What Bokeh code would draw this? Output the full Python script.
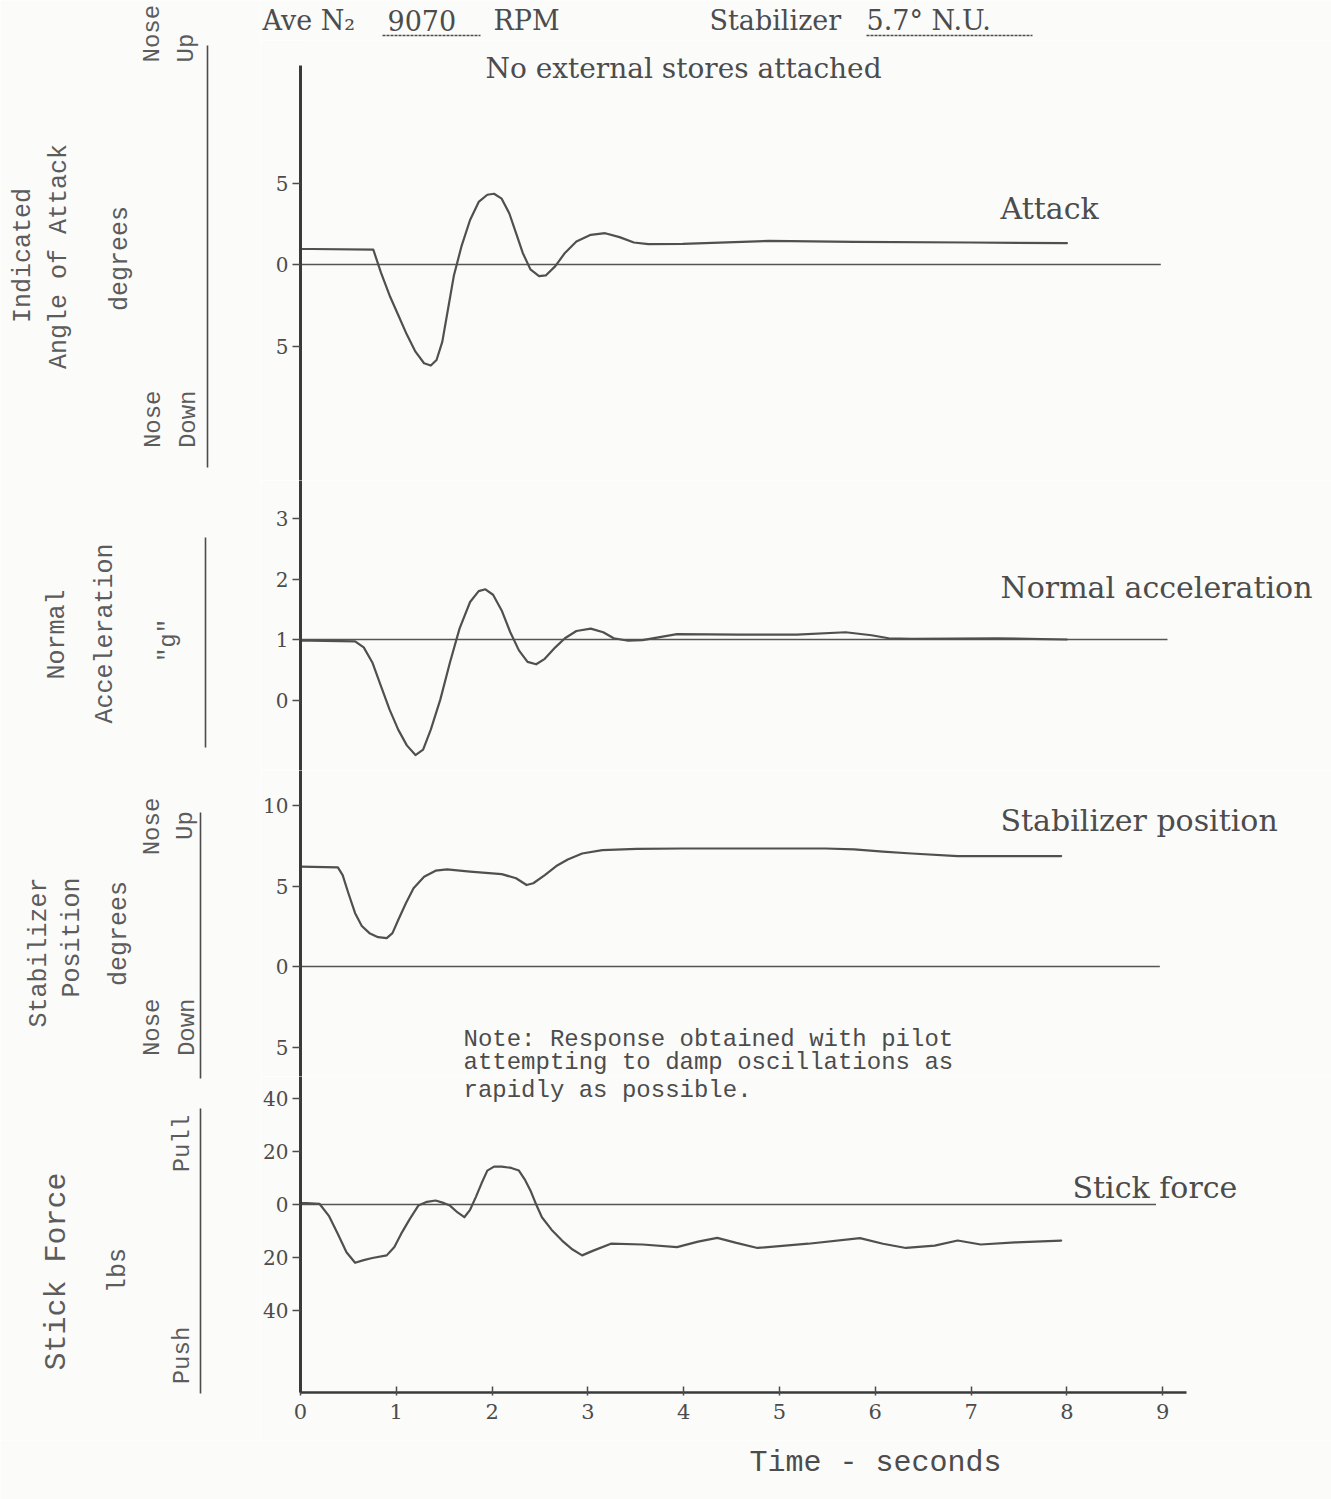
import math
from bokeh.plotting import figure
from bokeh.layouts import column, row
from bokeh.models import Range1d, FixedTicker, CustomJSTickFormatter, Label
from bokeh.embed import file_html
from bokeh.resources import INLINE

# ---------------- data ----------------
attack_t = [0.0, 0.12, 0.76, 0.84, 0.93, 1.02, 1.11, 1.20, 1.29, 1.36, 1.42, 1.48, 1.54, 1.60, 1.68,
            1.77, 1.86, 1.95, 2.02, 2.10, 2.18, 2.25, 2.32, 2.40, 2.49, 2.56, 2.66, 2.76, 2.88, 3.03,
            3.18, 3.33, 3.48, 3.63, 3.99, 4.89, 5.78, 6.98, 8.0]
attack_v = [0.95, 0.95, 0.91, -0.5, -1.9, -3.1, -4.3, -5.35, -6.06, -6.2, -5.86, -4.75, -2.73, -0.71,
            1.11, 2.73, 3.84, 4.28, 4.34, 4.04, 3.13, 1.92, 0.71, -0.3, -0.71, -0.67, -0.1, 0.71,
            1.41, 1.82, 1.92, 1.68, 1.35, 1.25, 1.27, 1.45, 1.39, 1.35, 1.31]

accel_t = [0.0, 0.1, 0.57, 0.66, 0.75, 0.84, 0.93, 1.02, 1.11, 1.20, 1.28, 1.36, 1.46, 1.56, 1.66,
           1.77, 1.86, 1.93, 2.01, 2.10, 2.19, 2.28, 2.37, 2.46, 2.55, 2.66, 2.76, 2.88, 3.03, 3.16,
           3.27, 3.42, 3.57, 3.75, 3.93, 4.58, 5.18, 5.69, 5.96, 6.14, 6.38, 7.28, 8.0]
accel_v = [0.98, 0.98, 0.97, 0.87, 0.62, 0.23, -0.16, -0.49, -0.75, -0.91, -0.82, -0.49, 0.01, 0.62,
           1.18, 1.62, 1.80, 1.83, 1.74, 1.48, 1.12, 0.82, 0.63, 0.59, 0.68, 0.87, 1.02, 1.14, 1.18,
           1.12, 1.02, 0.98, 0.99, 1.04, 1.09, 1.08, 1.08, 1.12, 1.07, 1.02, 1.01, 1.02, 1.0]

stab_t = [0.0, 0.39, 0.44, 0.50, 0.57, 0.64, 0.72, 0.81, 0.90, 0.96, 1.02, 1.10, 1.18, 1.29, 1.41,
          1.53, 1.77, 2.10, 2.25, 2.36, 2.43, 2.55, 2.67, 2.79, 2.94, 3.15, 3.51, 3.99, 4.89, 5.48,
          5.78, 6.08, 6.38, 6.86, 7.94]
stab_v = [6.2, 6.16, 5.68, 4.55, 3.31, 2.52, 2.07, 1.82, 1.76, 2.07, 2.89, 3.93, 4.86, 5.58, 5.95,
          6.03, 5.89, 5.74, 5.48, 5.06, 5.17, 5.68, 6.24, 6.65, 7.02, 7.23, 7.31, 7.33, 7.33, 7.33,
          7.27, 7.13, 7.02, 6.86, 6.86]

force_t = [0.0, 0.06, 0.2, 0.3, 0.39, 0.48, 0.57, 0.66, 0.75, 0.90, 0.98, 1.05, 1.14, 1.23, 1.32,
           1.41, 1.50, 1.56, 1.64, 1.71, 1.77, 1.83, 1.89, 1.95, 2.02, 2.10, 2.20, 2.28, 2.34, 2.40,
           2.46, 2.52, 2.62, 2.73, 2.84, 2.94, 3.05, 3.24, 3.57, 3.93, 4.15, 4.35, 4.55, 4.77, 5.30,
           5.84, 6.08, 6.32, 6.62, 6.86, 7.10, 7.46, 7.94]
force_v = [0.5, 0.5, 0.2, -4.5, -11.1, -18.0, -22.0, -21.0, -20.2, -19.2, -16.0, -11.1, -5.5, -0.4,
           1.0, 1.5, 0.5, -0.4, -3.0, -4.8, -2.0, 2.8, 8.0, 12.8, 14.3, 14.3, 13.8, 12.8, 9.5, 5.3,
           0.0, -4.8, -9.5, -13.6, -17.0, -19.2, -17.5, -14.8, -15.1, -16.1, -14.0, -12.6, -14.5,
           -16.4, -14.8, -12.7, -14.8, -16.4, -15.5, -13.6, -15.1, -14.3, -13.6]

# reference (trim) lines: level and end time
attack_ref = 0.0
accel_ref = 1.0
stab_ref = 0.0
force_ref = 0.0
ref_end = [8.98, 9.05, 8.97, 8.93]

x_ticks = [0, 1, 2, 3, 4, 5, 6, 7, 8, 9]
time_axis_end = 9.25
attack_ticks = [5, 0, -5]
accel_ticks = [3, 2, 1, 0]
stab_ticks = [10, 5, 0, -5]
force_ticks = [40, 20, 0, -20, -40]

# ---------------- geometry (page pixels) ----------------
PAGE_W, PAGE_H = 1331, 1499
HEAD_H = 40
FOOT_TOP = 1440
LEFT_W = 260
AXIS_B = 40           # border for the y axes; frame left at page x 300
X0 = LEFT_W + AXIS_B  # page x of t = 0
PX_S = 95.8           # pixels per second
PLOT_W = PAGE_W - LEFT_W

INK = "#4c4c4c"
SOFT = "#5c5c5c"
CURVE = "#505050"
BG = "#fbfbfa"
SERIF = "DejaVu Serif"
MONO = "Liberation Mono"

x_range = Range1d(0, (PLOT_W - AXIS_B) / PX_S)

# panel: (fig_top, fig_bottom, frame_bottom, anchor_value, anchor_page_y, px_per_unit, axis_top)
panels = [
    (HEAD_H, 480, 480, 0.0, 264, 16.3, 65),
    (480, 770, 770, 1.0, 639, 60.5, None),
    (770, 1076, 1076, 0.0, 966, 16.1, None),
    (1076, FOOT_TOP, 1392, 0.0, 1204, 2.65, None),
]


def tx(px):
    return (px - X0) / PX_S


def make_vy(pan):
    _, _, _, av, ay, ppu, _ = pan
    return lambda py: av + (ay - py) / ppu


def base_fig(w, h, **kw):
    p = figure(width=w, height=h, output_backend="svg", toolbar_location=None, **kw)
    p.grid.visible = False
    p.outline_line_color = None
    p.background_fill_color = BG
    p.border_fill_color = BG
    return p


figs = []
vys = []
tick_sets = [attack_ticks, accel_ticks, stab_ticks, force_ticks]
for i, pan in enumerate(panels):
    top, bot, fb, av, ay, ppu, axis_top = pan
    vy = make_vy(pan)
    y_end = vy(top)
    y_start = vy(fb)
    last = i == len(panels) - 1
    p = base_fig(PLOT_W, bot - top, x_range=x_range, y_range=Range1d(y_start, y_end),
                 x_axis_location="below" if last else None,
                 min_border_left=AXIS_B, min_border_right=0,
                 min_border_top=0, min_border_bottom=bot - fb)
    ya = p.yaxis[0]
    ya.ticker = FixedTicker(ticks=tick_sets[i])
    ya.formatter = CustomJSTickFormatter(code="return Math.abs(tick).toString();")
    if axis_top is not None:
        ya.bounds = (y_start, vy(axis_top))
    ya.axis_line_width = 3
    ya.axis_line_color = "#3a3a3a"
    ya.major_tick_out = 8
    ya.major_tick_in = 0
    ya.major_tick_line_color = INK
    ya.major_tick_line_width = 1.5
    ya.minor_tick_out = 0
    ya.minor_tick_in = 0
    ya.major_label_text_font = SERIF
    ya.major_label_text_font_size = "20px"
    ya.major_label_text_color = INK
    ya.major_label_standoff = 4

    if last:
        xa = p.xaxis[0]
        xa.ticker = FixedTicker(ticks=x_ticks)
        xa.bounds = (0, time_axis_end)
        xa.axis_line_width = 2.5
        xa.axis_line_color = "#3a3a3a"
        xa.major_tick_in = 6
        xa.major_tick_out = 3
        xa.major_tick_line_color = INK
        xa.major_tick_line_width = 1.5
        xa.minor_tick_out = 0
        xa.minor_tick_in = 0
        xa.major_label_text_font = SERIF
        xa.major_label_text_font_size = "21px"
        xa.major_label_text_color = INK
        xa.major_label_standoff = 8
    figs.append(p)
    vys.append(vy)

p1, p2, p3, p4 = figs
v1, v2, v3, v4 = vys

# ---------------- curves ----------------
series = [(p1, attack_t, attack_v, attack_ref, ref_end[0]),
          (p2, accel_t, accel_v, accel_ref, ref_end[1]),
          (p3, stab_t, stab_v, stab_ref, ref_end[2]),
          (p4, force_t, force_v, force_ref, ref_end[3])]
for p, t, v, ref, rend in series:
    p.line([0, rend], [ref, ref], line_color="#555555", line_width=1.6)
    p.line(t, v, line_color=CURVE, line_width=2.2, line_join="round", line_cap="round")


def lab(p, x, y, text, size, font=SERIF, angle=0.0, align="left", baseline="middle", color=INK):
    p.add_layout(Label(x=x, y=y, text=text, angle=angle, text_align=align,
                       text_baseline=baseline, text_font=font, text_font_size=size,
                       text_color=color))


def plab(p, vy, px, py, text, size, font=SERIF, align="left"):
    lab(p, tx(px), vy(py), text, size, font=font, align=align)


R = math.pi / 2

# ---------------- header (page coordinates) ----------------
head = base_fig(PLOT_W, HEAD_H, x_range=Range1d(LEFT_W, PAGE_W), y_range=Range1d(HEAD_H, 0),
                x_axis_location=None, y_axis_location=None, min_border=0)
lab(head, 262, 20, "Ave N\u2082", "27px")
lab(head, 387, 20, "9070", "27px")
lab(head, 493, 20, "RPM", "27px")
lab(head, 709, 20, "Stabilizer", "27px")
lab(head, 866, 20, "5.7\u00b0 N.U.", "27px")
head.line([382, 480], [35, 35], line_color=INK, line_width=1.4, line_dash="3 1")
head.line([866, 1032], [35, 35], line_color=INK, line_width=1.4, line_dash="3 1")

# ---------------- plot texts ----------------
plab(p1, v1, 683, 68, "No external stores attached", "28px", align="center")
plab(p1, v1, 1000, 208, "Attack", "30px")
plab(p2, v2, 1000, 587, "Normal acceleration", "30px")
plab(p3, v3, 1000, 820, "Stabilizer position", "30px")
plab(p4, v4, 1072, 1187, "Stick force", "30px")
plab(p3, v3, 463, 1039, "Note:  Response obtained with pilot", "24px", font=MONO)
plab(p3, v3, 463, 1062, "attempting to damp oscillations as", "24px", font=MONO)
plab(p4, v4, 463, 1090, "rapidly as possible.", "24px", font=MONO)

# ---------------- left labels (page coordinates) ----------------
left = base_fig(LEFT_W, FOOT_TOP, x_range=Range1d(0, LEFT_W), y_range=Range1d(FOOT_TOP, 0),
                x_axis_location=None, y_axis_location=None, min_border=0)


def vlab(x, y, text, size="25px", align="center"):
    lab(left, x, y, text, size, font=MONO, angle=R, align=align, color=SOFT)


vlab(23, 255, "Indicated")
vlab(59, 256, "Angle of Attack")
vlab(120, 258, "degrees")
vlab(152, 62, "Nose", "24px", align="left")
vlab(186, 62, "Up", "24px", align="left")
vlab(153, 390, "Nose", "24px", align="right")
vlab(188, 390, "Down", "24px", align="right")

vlab(57, 634, "Normal")
vlab(105, 633, "Acceleration")
vlab(168, 640, "\"g\"", "24px")

vlab(39, 952, "Stabilizer")
vlab(72, 937, "Position")
vlab(119, 933, "degrees")
vlab(152, 826, "Nose", "24px")
vlab(185, 825, "Up", "24px")
vlab(152, 998, "Nose", "24px", align="right")
vlab(187, 998, "Down", "24px", align="right")

vlab(56, 1271, "Stick Force", "30px")
vlab(118, 1270, "lbs")
vlab(182, 1143, "Pull", "24px")
vlab(182, 1355, "Push", "24px")

rules_x = [207, 205, 200, 200]
rules_y0 = [45, 537, 812, 1108]
rules_y1 = [467, 747, 1078, 1393]
left.segment(x0=rules_x, y0=rules_y0, x1=rules_x, y1=rules_y1, line_color=INK, line_width=1.6)

# ---------------- footer ----------------
foot = base_fig(PAGE_W, PAGE_H - FOOT_TOP, x_range=Range1d(0, PAGE_W),
                y_range=Range1d(PAGE_H, FOOT_TOP),
                x_axis_location=None, y_axis_location=None, min_border=0)
lab(foot, 875, 1462, "Time - seconds", "30px", font=MONO, align="center")

panels_col = column(*figs, spacing=0)
right = column(head, panels_col, spacing=0)
layout = column(row(left, right, spacing=0), foot, spacing=0)
open("out.html", "w").write(file_html(layout, INLINE))
